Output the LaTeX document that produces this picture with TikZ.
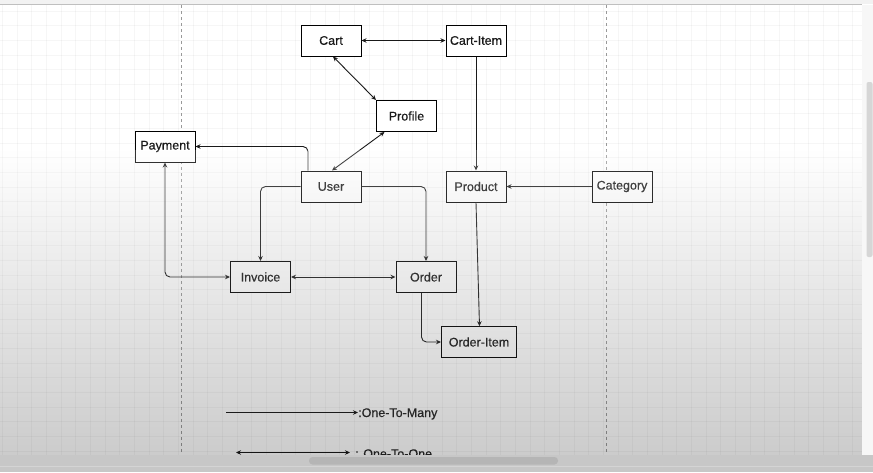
\documentclass[tikz,border=0pt]{standalone}
\usepackage{fontspec}
\setmainfont{Liberation Sans}[FakeBold=0.5]
\usetikzlibrary{arrows.meta}
\tikzset{
  x=1pt, y=-1pt,
  box/.style={draw=black, line width=1pt, fill=white, minimum width=60pt, minimum height=31pt, inner sep=0pt, font=\fontsize{12.5}{14}\selectfont, text=black!90},
  conn/.style={draw=black!90, line width=0.9pt, rounded corners=5pt},
  otm/.style={conn, -{Stealth[length=5pt,width=4.5pt]}},
  oto/.style={conn, {Stealth[length=5pt,width=4.5pt]}-{Stealth[length=5pt,width=4.5pt]}},
  legendtext/.style={anchor=base west, inner sep=0pt, font=\fontsize{12.5}{14}\selectfont, text=black!85},
  gridminor/.style={draw=black, opacity=0.035, line width=0.4pt},
  pageline/.style={draw=black!40, line width=0.6pt, dash pattern=on 3pt off 3pt}
}
\begin{document}
\begin{tikzpicture}
\useasboundingbox (0,0) rectangle (873,472);
% background
\fill[white] (0,0) rectangle (873,472);
\fill[black!5] (0,0) rectangle (873,4);
\draw[black!25, line width=0.6pt] (0,4.5) -- (862,4.5);
% grid
\foreach \i in {0,...,59} {
  \draw[gridminor] ({2.2+\i*14.66},5) -- ({2.2+\i*14.66},455);
}
\foreach \j in {0,...,30} {
  \draw[gridminor] (0,{11+\j*14.66}) -- (862,{11+\j*14.66});
}
% page break lines
\draw[pageline] (181,5) -- (181,455);
\draw[pageline] (606,5) -- (606,455);

% nodes
\node[box] (cart) at (331,40.5) {Cart};
\node[box] (cartitem) at (476,40.5) {Cart-Item};
\node[box] (profile) at (406.5,116) {Profile};
\node[box] (payment) at (165,146.5) {Payment};
\node[box] (user) at (331,186.5) {User};
\node[box] (product) at (476,186.5) {Product};
\node[box] (category) at (622,186.5) {Category};
\node[box] (invoice) at (260.5,277) {Invoice};
\node[box] (order) at (426,277) {Order};
\node[box, minimum width=75pt, minimum height=30.5pt] (orderitem) at (479,342) {Order-Item};

% connectors
\draw[oto] (cart) -- (cartitem);
\draw[otm] (cartitem) -- (product);
\draw[oto] ([xshift=2pt]cart.south) -- (profile.north west);
\draw[oto] ([xshift=-22pt]profile.south) -- ([xshift=1pt]user.north);
\draw[otm] ([xshift=-23pt]user.north) |- (payment.east);
\draw[otm] (user.west) -| (invoice.north);
\draw[otm] (user.east) -| (order.north);
\draw[otm] (category) -- (product);
\draw[oto] (payment.south) |- (invoice.west);
\draw[oto] (invoice) -- (order);
\draw[otm] ([xshift=-4.5pt]order.south) |- (orderitem.west);
\draw[otm] (product.south) -- ([xshift=0.5pt]orderitem.north);

% legend
\coordinate (la) at (226,412.5);
\node[legendtext] (lmany) at (358,417) {:One-To-Many};
\draw[otm] (la) -- (la -| lmany.west);
\coordinate (lb) at (236,452.5);
\node[legendtext] (lone) at (355,458) {: One-To-One};
\draw[oto] (lb) -- ([xshift=-5pt]lb -| lone.west);

% gradient overlay
\shade[top color=white, bottom color=black, fill opacity=0.2] (0,150) rectangle (873,456);

% right scrollbar strip
\fill[black!3] (862,5) rectangle (873,456);
\fill[black!16, rounded corners=2pt] (866.5,82) rectangle (872.5,257);

% bottom scrollbar band
\fill[black!22] (0,455) rectangle (873,472);
\fill[black!29, rounded corners=3.5pt] (309,457) rectangle (558,464.5);
\draw[black!17, line width=0.6pt] (0,466) -- (873,466);
\end{tikzpicture}
\end{document}
